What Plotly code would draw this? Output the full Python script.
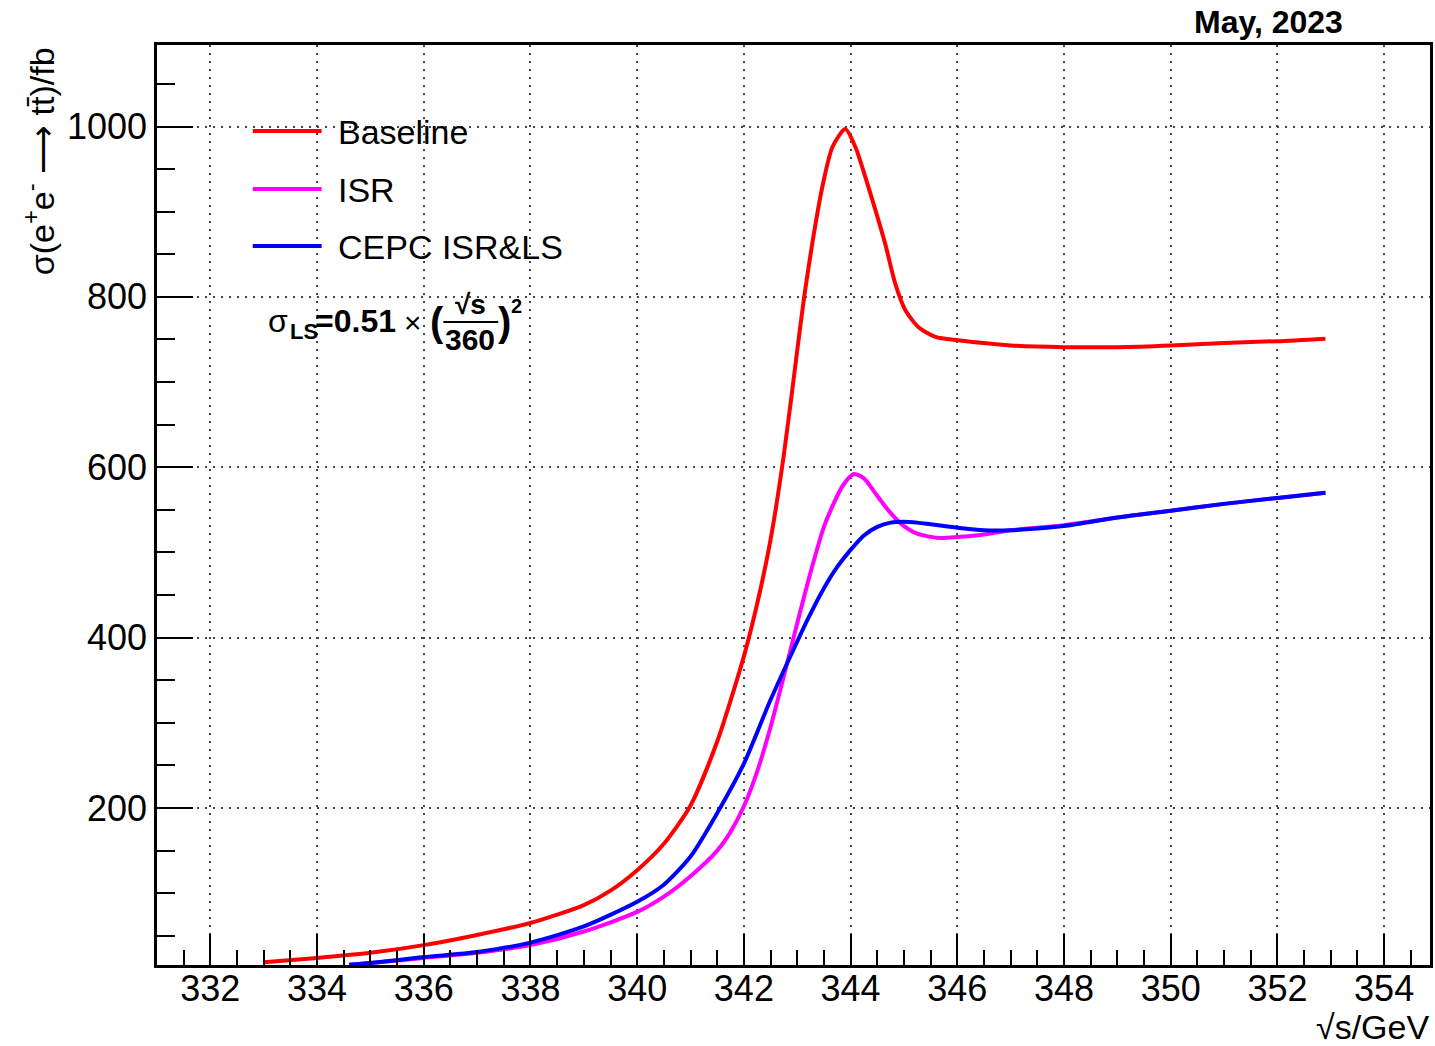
import plotly.graph_objects as go

# ---- cross-section curves: sqrt(s) [GeV] and sigma [fb] ----
baseline_x = [333.0, 334.0, 335.0, 336.0, 337.0, 338.0, 339.0, 339.5, 340.0, 340.5,
              341.0, 341.5, 342.0, 342.25, 342.5, 342.75, 343.0, 343.13, 343.28, 343.47,
              343.66, 343.9, 344.09, 344.28, 344.47, 344.65, 344.84, 345.03, 345.28, 345.59,
              346.02, 347.0, 348.0, 349.0, 350.0, 351.0, 352.0, 352.9]
baseline_y = [19, 24, 30, 39, 51, 65, 86, 103, 127, 158,
              203, 278, 378, 440, 515, 615, 737, 800, 862, 929,
              976, 997, 976, 940, 901, 862, 815, 784, 764, 753,
              749, 743, 741, 741, 743, 746, 748, 751]

isr_x = [334.6, 335.0, 336.0, 337.0, 338.0, 339.0, 340.0, 340.5, 341.0, 341.5,
         341.75, 342.0, 342.25, 342.5, 342.75, 343.0, 343.26, 343.5, 343.65, 343.85,
         344.06, 344.25, 344.47, 344.7, 344.96, 345.25, 345.65, 346.0, 346.5, 347.0,
         348.0, 349.0, 350.0, 351.0, 352.0, 352.9]
isr_y = [16, 18, 24, 30, 39, 55, 78, 96, 120, 150,
         172, 202, 243, 295, 355, 417, 479, 530, 553, 578,
         592, 587, 569, 550, 533, 522, 517, 518, 521, 526,
         532, 541, 549, 557, 564, 570]

isr_ls_x = [334.6, 335.0, 336.0, 337.0, 338.0, 339.0, 340.0, 340.5, 341.0, 341.5,
            342.0, 342.5, 342.9, 343.2, 343.5, 343.75, 344.0, 344.25, 344.5, 344.75,
            345.0, 345.25, 345.5, 346.0, 346.5, 347.0, 348.0, 349.0, 350.0, 351.0,
            352.0, 352.9]
isr_ls_y = [16, 18, 25, 31, 42, 61, 90, 110, 143, 194,
            252, 327, 382, 422, 458, 483, 503, 520, 530, 535,
            536, 535, 533, 529, 526, 526, 531, 541, 549, 557,
            564, 570]

series_names = ["Baseline", "ISR", "CEPC ISR&LS"]
series_colors = ["#ff0000", "#ff00ff", "#0000ff"]

x_ticks = list(range(332, 355, 2))
y_ticks = [200, 400, 600, 800, 1000]

W, H = 1435, 1046
L, R, T, B = 157, 2, 45, 81
PW, PH = W - L - R, H - T - B
FONT = "Liberation Sans, Arial, Helvetica, sans-serif"


def px(x):
    return (x - L) / PW


def py(y):
    return (H - B - y) / PH


fig = go.Figure()
for xs, ys, name, col in zip([baseline_x, isr_x, isr_ls_x],
                             [baseline_y, isr_y, isr_ls_y],
                             series_names, series_colors):
    fig.add_trace(go.Scatter(x=xs, y=ys, mode="lines", name=name,
                             line=dict(color=col, width=4, shape="spline", smoothing=0.7),
                             showlegend=False, hoverinfo="x+y"))

axis_common = dict(
    showline=True, linecolor="black", linewidth=2.5, mirror=True,
    ticks="inside", tickcolor="black", tickwidth=2,
    showgrid=True, gridcolor="#444", gridwidth=2, griddash="2px,6px",
    zeroline=False, tickfont=dict(family=FONT, size=36, color="black"),
)

fig.update_layout(
    width=W, height=H,
    margin=dict(l=L, r=R, t=T, b=B, pad=0),
    paper_bgcolor="white", plot_bgcolor="white",
    font=dict(family=FONT, color="black"),
    xaxis=dict(range=[331.0, 354.86], tickmode="array", tickvals=x_ticks,
               ticktext=[str(v) for v in x_ticks], ticklen=31,
               minor=dict(tick0=332, dtick=0.5, ticks="inside", ticklen=15,
                          tickcolor="black", tickwidth=2, showgrid=False),
               ticklabelstandoff=-10, **axis_common),
    yaxis=dict(range=[15.7, 1095.7], tickmode="array", tickvals=y_ticks,
               ticktext=[str(v) for v in y_ticks], ticklen=36,
               minor=dict(tick0=0, dtick=50, ticks="inside", ticklen=18,
                          tickcolor="black", tickwidth=2, showgrid=False),
               ticklabelstandoff=0, **axis_common),
)

ann = []
shapes = []

# legend block
leg_rows = [131, 189, 246]
for yrow, name, col in zip(leg_rows, series_names, series_colors):
    shapes.append(dict(type="line", xref="paper", yref="paper",
                       x0=px(253), x1=px(322), y0=py(yrow), y1=py(yrow),
                       line=dict(color=col, width=4)))
    ann.append(dict(text=name, xref="paper", yref="paper", x=px(336), y=py(yrow + 1),
                    xanchor="left", yanchor="middle", showarrow=False,
                    font=dict(family=FONT, size=34, color="black")))


# luminosity-spread formula: sigma_LS = 0.51 x (sqrt(s)/360)^2
def txt(s, x, y, size, bold=False, xanchor="left"):
    if bold:
        s = "<b>" + s + "</b>"
    ann.append(dict(text=s, xref="paper", yref="paper", x=px(x), y=py(y),
                    xanchor=xanchor, yanchor="middle", showarrow=False,
                    font=dict(family=FONT, size=size, color="black")))


txt("σ", 266, 321, 32)
txt("LS", 288, 331, 22, bold=True)
txt("=0.51", 313, 321, 32, bold=True)
txt("×", 403, 322, 30)
txt("(", 429, 322, 40, bold=True)
txt("√s", 471, 304, 28, bold=True, xanchor="center")
txt("360", 471, 339, 30, bold=True, xanchor="center")
txt(")", 497, 322, 40, bold=True)
txt("2", 510, 306, 20, bold=True)
shapes.append(dict(type="line", xref="paper", yref="paper",
                   x0=px(444), x1=px(499), y0=py(322), y1=py(322),
                   line=dict(color="black", width=2)))

# date stamp
ann.append(dict(text="<b>May, 2023</b>", xref="paper", yref="paper",
                x=px(1271), y=py(22), xanchor="center", yanchor="middle",
                showarrow=False, font=dict(family=FONT, size=32, color="black")))

# axis titles
ann.append(dict(text="√s/GeV", xref="paper", yref="paper",
                x=px(1434), y=py(1027), xanchor="right", yanchor="middle",
                showarrow=False, font=dict(family=FONT, size=34, color="black")))
ann.append(dict(text="σ(e<sup>+</sup>e<sup>-</sup> ⟶ tt\u0304)/fb", xref="paper", yref="paper",
                x=px(38), y=py(45), xanchor="center", yanchor="top", textangle=-90,
                showarrow=False, font=dict(family=FONT, size=34, color="black")))

fig.update_layout(annotations=ann, shapes=shapes)
fig.write_html("out.html")
